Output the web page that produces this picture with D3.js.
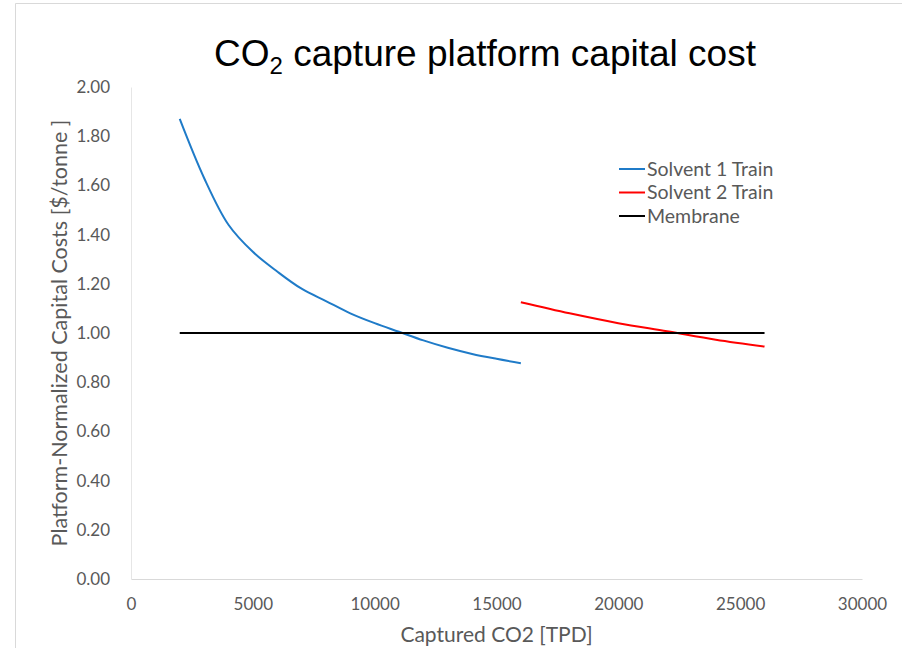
<!DOCTYPE html>
<html>
<head>
<meta charset="utf-8">
<script src="https://cdn.jsdelivr.net/npm/d3@7"></script>
<style>
  html, body { margin: 0; padding: 0; background: #fff; }
  svg { display: block; }
</style>
</head>
<body>
<svg id="chart" width="902" height="648"></svg>
<script>
// Captured CO2 [TPD] and platform-normalized capital cost [$/tonne]
const solvent1X = [2000, 3000, 4000, 5000, 6000, 7000, 8000, 9000, 10000, 11000, 12000, 13000, 14000, 15000, 16000];
const solvent1Y = [1.87, 1.63, 1.44, 1.33, 1.25, 1.18, 1.13, 1.08, 1.04, 1.005, 0.97, 0.94, 0.915, 0.895, 0.877];
const solvent2X = [16000, 18000, 20000, 22000, 24000, 26000];
const solvent2Y = [1.125, 1.08, 1.04, 1.007, 0.973, 0.945];
const membraneX = [2000, 26000];
const membraneY = [1.00, 1.00];

const xTicks = [0, 5000, 10000, 15000, 20000, 25000, 30000];
const yTicks = [0, 0.2, 0.4, 0.6, 0.8, 1.0, 1.2, 1.4, 1.6, 1.8, 2.0];

const seriesNames = ["Solvent 1 Train", "Solvent 2 Train", "Membrane"];
const seriesColors = ["#1f7bc8", "#ff0000", "#000000"];

const svg = d3.select("#chart");
const W = 902, H = 648;
const plot = { left: 131, right: 862, top: 87, bottom: 579 };

// outer chart frame
svg.append("path")
  .attr("d", `M15.5,${H} V3.5 H${W}`)
  .attr("fill", "none")
  .attr("stroke", "#d9d9d9")
  .attr("stroke-width", 1);

const x = d3.scaleLinear().domain([0, 30000]).range([plot.left, plot.right]);
const y = d3.scaleLinear().domain([0, 2]).range([plot.bottom, plot.top]);

const labelFont = "Lato, 'Open Sans', sans-serif";
const labelColor = "#595959";

// x axis
const xAxis = svg.append("g")
  .attr("transform", `translate(0,${plot.bottom})`)
  .call(d3.axisBottom(x).tickValues(xTicks).tickSize(0).tickPadding(19).tickFormat(d3.format("d")));
xAxis.select(".domain").attr("stroke", "#d9d9d9");
xAxis.selectAll("text")
  .attr("font-family", labelFont).attr("font-size", 17).attr("fill", labelColor);

// y axis
const yAxis = svg.append("g")
  .attr("transform", `translate(${plot.left},0)`)
  .call(d3.axisLeft(y).tickValues(yTicks).tickSize(0).tickPadding(21).tickFormat(d3.format(".2f")));
yAxis.select(".domain").attr("stroke", "#e6e6e6");
yAxis.selectAll("text")
  .attr("font-family", labelFont).attr("font-size", 17).attr("fill", labelColor);

// axis titles
svg.append("text")
  .attr("x", (plot.left + plot.right) / 2)
  .attr("y", 642)
  .attr("text-anchor", "middle")
  .attr("font-family", labelFont).attr("font-size", 21).attr("fill", labelColor)
  .text("Captured CO2 [TPD]");

svg.append("text")
  .attr("transform", `translate(67,${(plot.top + plot.bottom) / 2}) rotate(-90)`)
  .attr("text-anchor", "middle")
  .attr("font-family", labelFont).attr("font-size", 21.5).attr("fill", labelColor)
  .text("Platform-Normalized Capital Costs [$/tonne ]");

// title with subscript
const title = svg.append("text")
  .attr("x", 485)
  .attr("y", 66)
  .attr("text-anchor", "middle")
  .attr("font-family", "'Liberation Sans', Arial, sans-serif")
  .attr("font-size", 37)
  .attr("fill", "#000");
title.append("tspan").text("CO");
title.append("tspan").attr("font-size", 24).attr("dy", 8).text("2");
title.append("tspan").attr("dy", -8).text(" capture platform capital cost");

// series lines
const line = d3.line()
  .x(d => x(d[0]))
  .y(d => y(d[1]))
  .curve(d3.curveCatmullRom.alpha(0.5));

const series = [
  d3.zip(solvent1X, solvent1Y),
  d3.zip(solvent2X, solvent2Y),
  d3.zip(membraneX, membraneY)
];

series.forEach((pts, i) => {
  svg.append("path")
    .datum(pts)
    .attr("d", line)
    .attr("fill", "none")
    .attr("stroke", seriesColors[i])
    .attr("stroke-width", 2);
});

// legend
const legend = svg.append("g").attr("transform", "translate(619,169)");
seriesNames.forEach((name, i) => {
  const g = legend.append("g").attr("transform", `translate(0,${i * 23.5})`);
  g.append("line")
    .attr("x1", 0).attr("x2", 26).attr("y1", 0).attr("y2", 0)
    .attr("stroke", seriesColors[i]).attr("stroke-width", 2);
  g.append("text")
    .attr("x", 28).attr("y", 0).attr("dy", "0.35em")
    .attr("font-family", labelFont).attr("font-size", 19.5).attr("fill", labelColor)
    .text(name);
});
</script>
</body>
</html>
